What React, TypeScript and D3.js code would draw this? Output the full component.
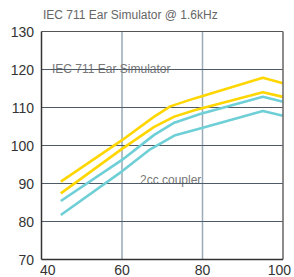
import React from "react";
import * as d3 from "d3";

const xTicks = [40, 60, 80, 100];
const yTicks = [70, 80, 90, 100, 110, 120, 130];

const earHighX = [44.8, 60, 68, 72, 78, 95, 100];
const earHighY = [90.5, 101.4, 107.6, 110.3, 112.4, 117.8, 116.4];
const earLowX = [44.8, 60, 68, 73, 78, 95, 100];
const earLowY = [87.4, 99.1, 104.9, 107.6, 109.3, 114.0, 112.8];
const cplHighX = [44.8, 60, 68, 73, 79.4, 95, 100];
const cplHighY = [85.4, 96.2, 102.8, 106.0, 108.3, 112.8, 111.5];
const cplLowX = [44.8, 60, 67, 73, 79.4, 95, 100];
const cplLowY = [81.7, 93.2, 99.0, 102.6, 104.5, 109.1, 107.8];

const subtitle = "IEC 711 Ear Simulator @ 1.6kHz";
const earLabel = "IEC 711 Ear Simulator";
const couplerLabel = "2cc coupler";

const W = 294;
const H = 277;
const m = { left: 41.5, right: 283, top: 31.5, bottom: 259.5 };

export default function App() {
  const x = d3.scaleLinear().domain([40, 100]).range([m.left, m.right]);
  const y = d3.scaleLinear().domain([70, 130]).range([m.bottom, m.top]);
  const line = d3
    .line<[number, number]>()
    .x((d) => x(d[0]))
    .y((d) => y(d[1]))
    .curve(d3.curveLinear);
  const mk = (xs: number[], ys: number[]) => line(xs.map((v, i) => [v, ys[i]] as [number, number])) || "";
  const series = [
    { xs: earHighX, ys: earHighY, c: "#FFD600" },
    { xs: earLowX, ys: earLowY, c: "#FFD600" },
    { xs: cplHighX, ys: cplHighY, c: "#6FCFD6" },
    { xs: cplLowX, ys: cplLowY, c: "#6FCFD6" },
  ];
  const font = "'Liberation Sans', Arial, Helvetica, sans-serif";
  return (
    <div style={{ position: "absolute", left: 0, top: 0 }}>
      <svg width={W} height={H} style={{ display: "block", background: "#fff" }} fontFamily={font}>
        <text x={43} y={19} fontSize={12} fill="#666">{subtitle}</text>
        {xTicks.slice(1, -1).map((t) => (
          <line key={"vx" + t} x1={x(t)} x2={x(t)} y1={m.top} y2={m.bottom} stroke="#9AAAB6" strokeWidth={1.5} />
        ))}
        <text x={52} y={73} fontSize={12} fill="#777">{earLabel}</text>
        <text x={140} y={184} fontSize={12} fill="#777">{couplerLabel}</text>
        {yTicks.slice(1, -1).map((t) => (
          <line key={"hy" + t} x1={m.left} x2={m.right} y1={y(t)} y2={y(t)} stroke="#4E5A66" strokeWidth={1} />
        ))}
        {series.map((s, i) => (
          <path key={i} d={mk(s.xs, s.ys)} fill="none" stroke={s.c} strokeWidth={2.6} strokeLinejoin="round" />
        ))}
        <line x1={m.left} x2={m.right} y1={m.top} y2={m.top} stroke="#555" strokeWidth={1} />
        <line x1={m.right} x2={m.right} y1={m.top} y2={m.bottom} stroke="#666" strokeWidth={1.5} />
        <line x1={m.left} x2={m.left} y1={m.top} y2={m.bottom} stroke="#333" strokeWidth={1.5} />
        <line x1={m.left} x2={m.right} y1={m.bottom} y2={m.bottom} stroke="#333" strokeWidth={1.5} />
        {yTicks.map((t) => (
          <text key={"yl" + t} x={34} y={y(t)} dy="0.36em" textAnchor="end" fontSize={14} fill="#333">{t}</text>
        ))}
        {xTicks.map((t, i) => (
          <text
            key={"xl" + t}
            x={i === 0 ? 40 : i === xTicks.length - 1 ? 291 : x(t)}
            y={275}
            textAnchor={i === 0 ? "start" : i === xTicks.length - 1 ? "end" : "middle"}
            fontSize={14}
            fill="#333"
          >
            {t}
          </text>
        ))}
      </svg>
    </div>
  );
}
